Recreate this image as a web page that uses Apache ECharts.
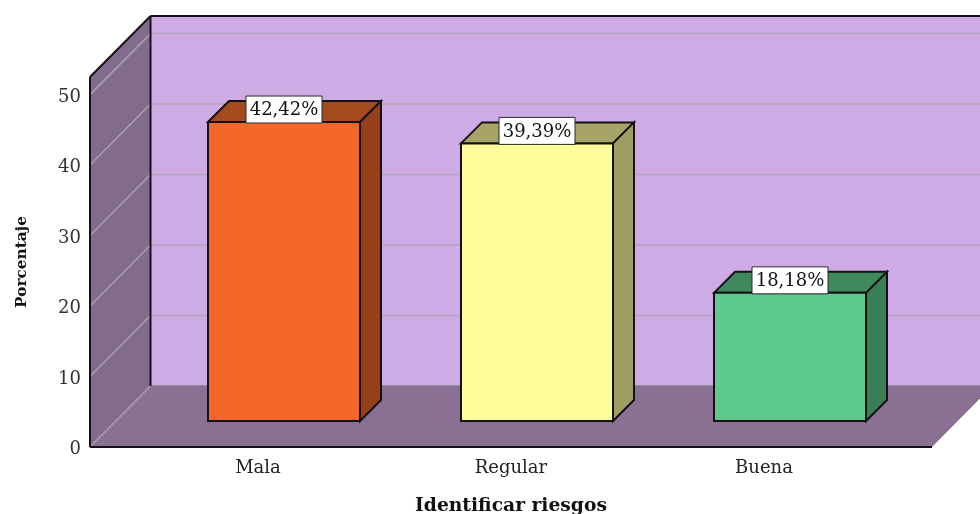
<!DOCTYPE html>
<html>
<head>
<meta charset="utf-8">
<script src="https://cdn.jsdelivr.net/npm/echarts@6/dist/echarts.min.js"></script>
<style>html,body{margin:0;padding:0;background:#fff}#chart{width:980px;height:514px}</style>
</head>
<body>
<div id="chart"></div>
<script>
const categories = ['Mala', 'Regular', 'Buena'];
const percentages = [42.42, 39.39, 18.18];
const valueTicks = [0, 10, 20, 30, 40, 50];
const axisTop = 52.5;
const xTitle = 'Identificar riesgos';
const yTitle = 'Porcentaje';

// Faces of each bar: front, top, side
const barFaces = [
  ['#F4672A', '#A34A1E', '#963F18'],
  ['#FFFD99', '#A6A466', '#9F9E62'],
  ['#5DC98A', '#3F8A5C', '#3A7E55']
];

// Oblique projection settings, in pixels
const FONT = '"DejaVu Serif", serif';
const WALL_DX = 60.5, WALL_DY = 61;   // depth of the chart box
const BAR_INSET = 26;                 // how far bars sit behind the front edge
const BAR_DX = 21, BAR_DY = 21;       // depth of a bar
const BAR_WIDTH = 152;
const BOX_PAD = 41.5;                 // distance from the first band to the left edge

const EDGE = '#141018';

function poly(points, fill, stroke, lineWidth) {
  return {
    type: 'polygon',
    shape: { points },
    style: { fill, stroke: stroke || 'none', lineWidth: lineWidth || 0 }
  };
}
function seg(a, b, stroke, lineWidth) {
  return {
    type: 'line',
    shape: { x1: a[0], y1: a[1], x2: b[0], y2: b[1] },
    style: { stroke, lineWidth }
  };
}

// Back wall, left wall, floor and the gridlines that wrap around them
function renderBox(params, api) {
  const band = api.size([1, 0])[0];
  const x0 = api.coord([0, 0])[0] - band / 2 - BOX_PAD;
  const x1 = api.coord([categories.length - 1, 0])[0] + band / 2 + BOX_PAD;
  const y0 = api.coord([0, 0])[1];
  const yT = api.coord([0, axisTop])[1];
  const kids = [
    poly([[x0 + WALL_DX, yT - WALL_DY], [x1 + WALL_DX, yT - WALL_DY], [x1 + WALL_DX, y0 - WALL_DY], [x0 + WALL_DX, y0 - WALL_DY]], '#CFABE5'),
    poly([[x0, yT], [x0 + WALL_DX, yT - WALL_DY], [x0 + WALL_DX, y0 - WALL_DY], [x0, y0]], '#826B8C'),
    poly([[x0, y0], [x0 + WALL_DX, y0 - WALL_DY], [x1 + WALL_DX, y0 - WALL_DY], [x1, y0]], '#8A7093')
  ];
  valueTicks.forEach((t) => {
    const y = api.coord([0, t])[1];
    kids.push(seg([x0, y], [x0 + WALL_DX, y - WALL_DY], '#A89FAE', 1.5));
    kids.push(seg([x0 + WALL_DX, y - WALL_DY], [x1 + WALL_DX, y - WALL_DY], t === 0 ? '#80788A' : '#B5A5BB', 1.5));
  });
  kids.push(
    seg([x0, yT], [x0, y0], EDGE, 2),
    seg([x0, y0], [x1, y0], EDGE, 2),
    seg([x0, yT], [x0 + WALL_DX, yT - WALL_DY], EDGE, 2),
    seg([x0 + WALL_DX, yT - WALL_DY], [x1 + WALL_DX, yT - WALL_DY], EDGE, 2),
    seg([x0 + WALL_DX, yT - WALL_DY], [x0 + WALL_DX, y0 - WALL_DY], EDGE, 2)
  );
  return { type: 'group', children: kids };
}

// One prism per category, with its value tag resting on the front top edge
function renderBar(params, api) {
  const i = api.value(0);
  const v = api.value(1);
  const base = api.coord([i, 0]);
  const top = api.coord([i, v]);
  const cx = base[0] + BAR_INSET;
  const l = cx - BAR_WIDTH / 2, r = cx + BAR_WIDTH / 2;
  const b = base[1] - BAR_INSET, t = top[1] - BAR_INSET;
  const faces = barFaces[params.dataIndex];
  const labelText = v.toFixed(2).replace('.', ',') + '%';
  return {
    type: 'group',
    children: [
      poly([[l, t], [l + BAR_DX, t - BAR_DY], [r + BAR_DX, t - BAR_DY], [r, t]], faces[1], EDGE, 2),
      poly([[r, t], [r + BAR_DX, t - BAR_DY], [r + BAR_DX, b - BAR_DY], [r, b]], faces[2], EDGE, 2),
      poly([[l, t], [r, t], [r, b], [l, b]], faces[0], EDGE, 2),
      {
        type: 'rect',
        shape: { x: cx - 38, y: t - 26, width: 76, height: 27 },
        style: { fill: '#FFFFFF', stroke: '#2A2A2A', lineWidth: 1 }
      },
      {
        type: 'text',
        style: {
          x: cx, y: t - 11.5, text: labelText, fill: '#111111',
          font: '18px ' + FONT, align: 'center', verticalAlign: 'middle'
        }
      }
    ]
  };
}

const chart = echarts.init(document.getElementById('chart'), null, { renderer: 'canvas' });
chart.setOption({
  animation: false,
  backgroundColor: '#FFFFFF',
  grid: { left: 131.5, right: 89.5, top: 77, bottom: 67, outerBoundsMode: 'none' },
  xAxis: {
    type: 'category',
    data: categories,
    name: xTitle,
    nameLocation: 'middle',
    nameGap: 50,
    nameTextStyle: { fontFamily: FONT, fontSize: 18.7, fontWeight: 'bold', color: '#111111' },
    axisLine: { show: false },
    axisTick: { show: false },
    axisLabel: { fontFamily: FONT, fontSize: 18, color: '#222222', margin: 12 }
  },
  yAxis: {
    type: 'value',
    min: 0,
    max: axisTop,
    interval: 10,
    offset: 41.5,
    name: yTitle,
    nameLocation: 'middle',
    nameGap: 60,
    nameTextStyle: { fontFamily: FONT, fontSize: 15.3, fontWeight: 'bold', color: '#111111' },
    axisLine: { show: false },
    axisTick: { show: false },
    splitLine: { show: false },
    axisLabel: {
      margin: 9,
      showMaxLabel: false,
      formatter: (v) => (valueTicks.includes(v) ? '{tick|' + v + '}' : ''),
      rich: {
        // a little top padding sets the digits level with their gridlines
        tick: { fontFamily: FONT, fontSize: 18, color: '#333333', padding: [5, 0, 0, 0] }
      }
    }
  },
  series: [
    { type: 'custom', renderItem: renderBox, data: [[0, 0]], z: 1, silent: true },
    {
      type: 'custom',
      renderItem: renderBar,
      data: categories.map((c, i) => [i, percentages[i]]),
      z: 2
    }
  ]
});
</script>
</body>
</html>
